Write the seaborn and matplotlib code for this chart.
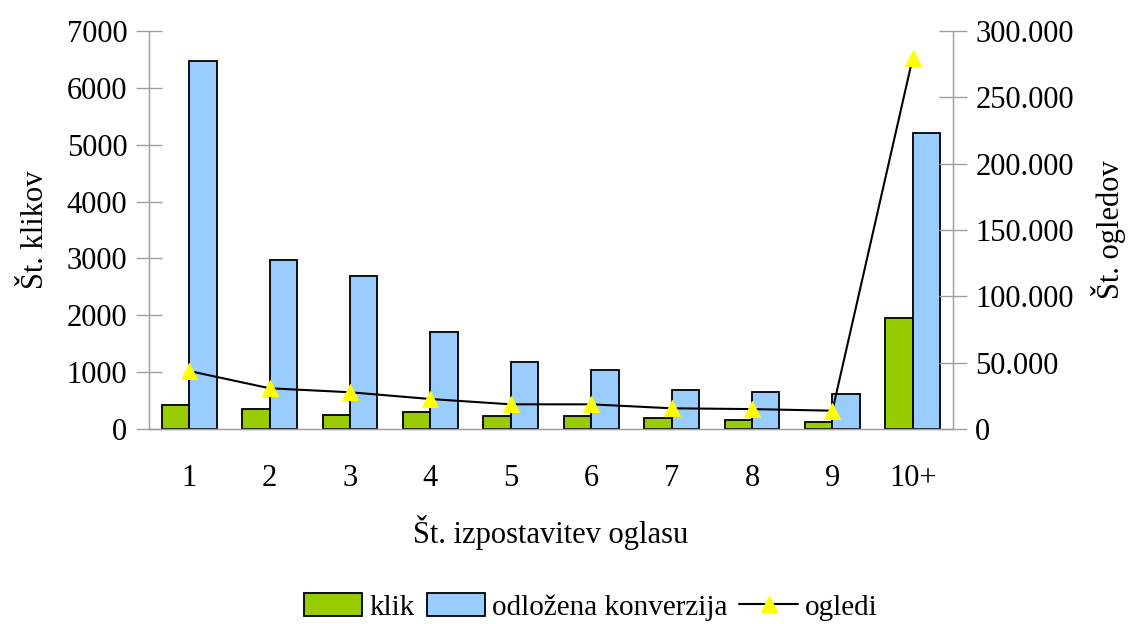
import matplotlib
matplotlib.use("Agg")
import matplotlib.pyplot as plt
import numpy as np
import pandas as pd
import seaborn as sns
from matplotlib.lines import Line2D
from matplotlib.patches import Patch
from matplotlib.ticker import FuncFormatter, FixedLocator

# data
categories = ["1", "2", "3", "4", "5", "6", "7", "8", "9", "10+"]
klik = [430, 360, 255, 295, 220, 225, 190, 155, 115, 1945]
odlozena = [6480, 2965, 2685, 1700, 1170, 1030, 685, 645, 615, 5210]
ogledi = [43700, 30700, 27700, 22600, 18600, 18600, 15600, 15000, 13800, 280000]

series_names = ["klik", "odložena konverzija"]
colors = ["#99cc00", "#99ccff"]
grey = "#a0a0a0"
fs = 22

sns.set_style("white")
plt.rcParams["font.family"] = ["Liberation Serif", "DejaVu Serif"]
plt.rcParams["font.size"] = fs
plt.rcParams["text.color"] = "black"
plt.rcParams["axes.labelcolor"] = "black"
plt.rcParams["xtick.color"] = "black"
plt.rcParams["ytick.color"] = "black"

bars_df = pd.DataFrame(
    {
        "cat": categories * 2,
        "value": klik + odlozena,
        "series": [series_names[0]] * len(categories) + [series_names[1]] * len(categories),
    }
)

fig = plt.figure(figsize=(11.3, 6.24), dpi=100)
ax = fig.add_axes([149 / 1130, 1 - 429 / 624, (953 - 149) / 1130, (429 - 31) / 624])

sns.barplot(
    data=bars_df,
    x="cat",
    y="value",
    hue="series",
    order=categories,
    hue_order=series_names,
    palette=colors,
    width=0.68,
    gap=0,
    edgecolor="black",
    linewidth=1.3,
    saturation=1,
    legend=False,
    ax=ax,
)
ax.set_ylim(0, 7000)
ax.set_xlim(-0.5, len(categories) - 0.5)
ax.set_yticks(np.arange(0, 7001, 1000))
ax.set_ylabel("Št. klikov", fontsize=fs, labelpad=12)
ax.set_xlabel("Št. izpostavitev oglasu", fontsize=fs, labelpad=16)

# ticks between categories, labels at centres
ax.xaxis.set_minor_locator(FixedLocator(np.arange(-0.5, len(categories), 1.0)))
ax.tick_params(axis="x", which="major", length=0, pad=25, labelsize=fs, labelcolor="black")
ax.tick_params(axis="x", which="minor", direction="inout", length=21, color=grey, width=1)
ax.tick_params(axis="y", direction="inout", length=19, color=grey, width=1, labelsize=fs, pad=6,
               labelcolor="black")

ax.spines["top"].set_visible(False)
for side in ["left", "bottom", "right"]:
    ax.spines[side].set_color(grey)
    ax.spines[side].set_linewidth(1)

ax2 = ax.twinx()
sns.lineplot(
    x=np.arange(len(categories)),
    y=ogledi,
    color="black",
    linewidth=1.5,
    marker="^",
    markersize=12,
    markerfacecolor="#ffff00",
    markeredgecolor="#ffff00",
    ax=ax2,
)
ax2.set_ylim(0, 300000)
ax2.set_yticks(np.arange(0, 300001, 50000))
ax2.yaxis.set_major_formatter(FuncFormatter(lambda v, _: f"{int(v):,}".replace(",", ".")))
ax2.tick_params(axis="y", direction="inout", length=20, color=grey, width=1, labelsize=fs, pad=6,
                labelcolor="black")
ax2.set_ylabel("Št. ogledov", fontsize=fs, labelpad=12)
ax2.spines["top"].set_visible(False)
for side in ["left", "bottom", "right"]:
    ax2.spines[side].set_color(grey)

handles = [
    Patch(facecolor=colors[0], edgecolor="black", linewidth=1.3, label=series_names[0]),
    Patch(facecolor=colors[1], edgecolor="black", linewidth=1.3, label=series_names[1]),
    Line2D([0], [0], color="black", linewidth=1.5, marker="^", markersize=11,
           markerfacecolor="#ffff00", markeredgecolor="#ffff00", label="ogledi"),
]
fig.legend(
    handles=handles,
    loc="center",
    bbox_to_anchor=(0.523, 1 - 607 / 624),
    ncol=3,
    frameon=False,
    fontsize=21,
    handlelength=2.0,
    handleheight=0.8,
    handletextpad=0.25,
    columnspacing=0.4,
)

fig.savefig("out.png", dpi=100)
